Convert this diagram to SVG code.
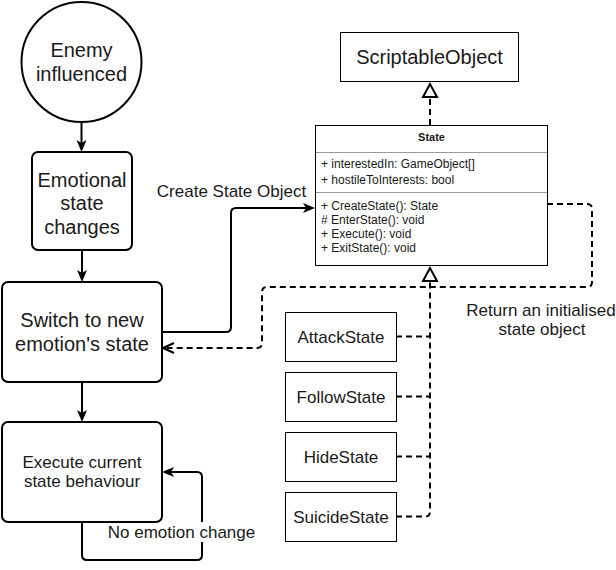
<svg xmlns="http://www.w3.org/2000/svg" width="616" height="570" viewBox="0 0 616 570">
<style>
text{font-family:"Liberation Sans",Arial,Helvetica,sans-serif;fill:#1a1a1a}
.big{font-size:20px;text-anchor:middle}
.mid{font-size:17px;text-anchor:middle}
.cls{font-size:12px}
.hdr{font-size:11px;font-weight:bold;text-anchor:middle}
.fc{fill:#fff;stroke:#000;stroke-width:2}
.box{fill:#fff;stroke:#000;stroke-width:1}
.sep{stroke:#999;stroke-width:1}
.solid{fill:none;stroke:#000;stroke-width:2}
.dash{fill:none;stroke:#000;stroke-width:2;stroke-dasharray:6 4}
</style>
<defs>
<marker id="block" markerUnits="userSpaceOnUse" markerWidth="12" markerHeight="10" refX="9" refY="5" orient="auto" overflow="visible">
<path d="M0,0 L12,5 L0,10 L3,5 Z" fill="#000" stroke="none"/>
</marker>
<marker id="open" markerUnits="userSpaceOnUse" markerWidth="12" markerHeight="10" refX="11" refY="5" orient="auto" overflow="visible">
<path d="M0,0 L11,5 L0,10" fill="none" stroke="#000" stroke-width="2"/>
</marker>
<marker id="tri" markerUnits="userSpaceOnUse" markerWidth="14" markerHeight="14" refX="13" refY="7" orient="auto" overflow="visible">
<path d="M0,0 L13,7 L0,14 Z" fill="#fff" stroke="#000" stroke-width="2"/>
</marker>
</defs>
<rect width="616" height="570" fill="#fff"/>

<g id="connectors">
<path class="solid" d="M81.5,122 V149" marker-end="url(#block)"/>
<path class="solid" d="M82,250 V279" marker-end="url(#block)"/>
<path class="solid" d="M82,382 V419" marker-end="url(#block)"/>
<path class="solid" d="M82,522 V555 Q82,560 87,560 H197 Q202,560 202,555 V477 Q202,472 197,472 H165" marker-end="url(#block)"/>
<path class="solid" d="M162,332 H226 Q231,332 231,327 V213 Q231,208 236,208 H312" marker-end="url(#block)"/>
<path class="dash" d="M547,204 H587 Q592,204 592,209 V282 Q592,287 587,287 H267 Q262,287 262,292 V343 Q262,348 257,348 H163" marker-end="url(#open)"/>
<path class="dash" d="M430,125 V84" marker-end="url(#tri)"/>
<path class="dash" d="M396,516.5 H425 Q430,516.5 430,511.5 V268" marker-end="url(#tri)"/>
<path class="dash" d="M396,336.5 H430"/>
<path class="dash" d="M396,396.5 H430"/>
<path class="dash" d="M396,456.5 H430"/>
<rect x="108" y="522" width="147" height="20" fill="#fff"/>
<text class="mid" x="181.5" y="538">No emotion change</text>
<text class="mid" x="231.5" y="197">Create State Object</text>
<text class="mid" x="541" y="316">Return an initialised</text>
<text class="mid" x="542" y="335">state object</text>
</g>

<g id="enemy-influenced">
<circle class="fc" cx="81.5" cy="62" r="60"/>
<text class="big" x="81.5" y="57">Enemy</text>
<text class="big" x="81.5" y="81">influenced</text>
</g>

<g id="emotional-state-changes">
<rect class="fc" x="32" y="152" width="100" height="98" rx="6"/>
<text class="big" x="82" y="187">Emotional</text>
<text class="big" x="82" y="210">state</text>
<text class="big" x="82" y="234">changes</text>
</g>

<g id="switch-state">
<rect class="fc" x="2" y="282" width="160" height="100" rx="6"/>
<text class="big" x="82" y="327">Switch to new</text>
<text class="big" x="82" y="351">emotion's state</text>
</g>

<g id="execute-state">
<rect class="fc" x="2" y="422" width="160" height="100" rx="6"/>
<text class="mid" x="82" y="468">Execute current</text>
<text class="mid" x="82" y="487">state behaviour</text>
</g>

<g id="scriptable-object">
<rect class="box" x="340.5" y="32.5" width="178" height="49"/>
<text class="big" x="429.5" y="64">ScriptableObject</text>
</g>

<g id="state-class">
<rect class="box" x="315.5" y="125.5" width="232" height="140"/>
<line class="sep" x1="316" y1="152.5" x2="547" y2="152.5"/>
<line class="sep" x1="316" y1="192.5" x2="547" y2="192.5"/>
<text class="hdr" x="431.5" y="141">State</text>
<text class="cls" x="321" y="168">+ interestedIn: GameObject[]</text>
<text class="cls" x="321" y="184">+ hostileToInterests: bool</text>
<text class="cls" x="321" y="210">+ CreateState(): State</text>
<text class="cls" x="321" y="224">#  EnterState(): void</text>
<text class="cls" x="321" y="238">+ Execute(): void</text>
<text class="cls" x="321" y="252">+ ExitState(): void</text>
</g>

<g id="attack-state">
<rect class="box" x="285.5" y="312.5" width="111" height="49"/>
<text class="mid" x="341" y="342.5">AttackState</text>
</g>
<g id="follow-state">
<rect class="box" x="285.5" y="372.5" width="111" height="49"/>
<text class="mid" x="341" y="402.5">FollowState</text>
</g>
<g id="hide-state">
<rect class="box" x="285.5" y="432.5" width="111" height="49"/>
<text class="mid" x="341" y="462.5">HideState</text>
</g>
<g id="suicide-state">
<rect class="box" x="285.5" y="492.5" width="111" height="49"/>
<text class="mid" x="341" y="522.5">SuicideState</text>
</g>
</svg>
